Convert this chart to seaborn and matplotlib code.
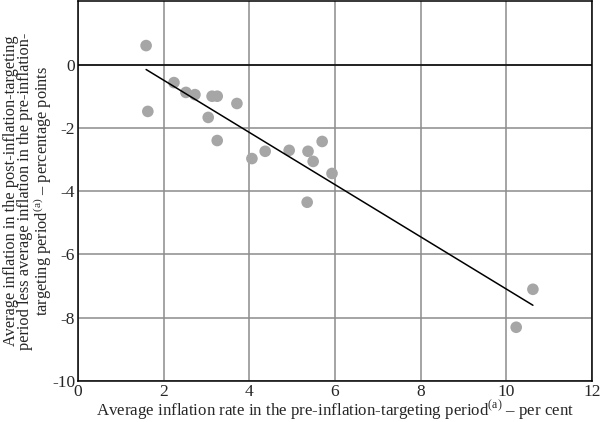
import numpy as np
import pandas as pd
import matplotlib
matplotlib.use("Agg")
import matplotlib.pyplot as plt
import seaborn as sns

# pre-IT average inflation (x) and change in average inflation (y)
pre_inflation = [1.59, 1.63, 2.24, 2.52, 2.73, 3.04, 3.13, 3.25, 3.25, 3.71,
                 4.06, 4.37, 4.93, 5.37, 5.35, 5.49, 5.70, 5.93, 10.62, 10.23]
inflation_change = [0.60, -1.48, -0.57, -0.88, -0.95, -1.67, -1.00, -1.00, -2.40, -1.23,
                    -2.97, -2.74, -2.71, -2.74, -4.35, -3.06, -2.43, -3.44, -7.10, -8.30]

x_ticks = [0, 2, 4, 6, 8, 10, 12]
y_ticks = [-10, -8, -6, -4, -2, 0]

df = pd.DataFrame({'pre': pre_inflation, 'change': inflation_change})

sns.set_style('white')
plt.rcParams['font.family'] = ['Liberation Serif', 'DejaVu Serif']
plt.rcParams['mathtext.fontset'] = 'custom'
plt.rcParams['mathtext.rm'] = 'Liberation Serif'
plt.rcParams['axes.unicode_minus'] = False

fig = plt.figure(figsize=(6, 4.22), dpi=100)
ax = fig.add_axes([0.13, 0.097, 0.8567, 0.9])

ax.set_xlim(0, 12)
ax.set_ylim(-10, 2)
ax.set_xticks(x_ticks)
ax.set_yticks(y_ticks)
ax.grid(True, color='#8c8c8c', linewidth=1.1)
ax.set_axisbelow(True)
ax.axhline(0, color='black', linewidth=1.1, zorder=1)

sns.scatterplot(data=df, x='pre', y='change', ax=ax, color='#a6a6a6',
                s=70, edgecolor='none', zorder=3)
sns.regplot(data=df, x='pre', y='change', ax=ax, scatter=False, ci=None,
            truncate=True, line_kws={'color': 'black', 'linewidth': 1.1, 'zorder': 4})

for sp in ax.spines.values():
    sp.set_color('black')
    sp.set_linewidth(1.1)

ax.tick_params(length=0, labelsize=12.5, pad=2)
ax.set_xlabel('Average inflation rate in the pre-inflation-targeting period$^{\\rm (a)}$ \u2013 per cent',
              fontsize=12.2, va='top')
ax.xaxis.set_label_coords(0.5, -0.046)
ax.set_ylabel('Average inflation in the post-inflation-targeting\n'
              'period less average inflation in the pre-inflation-\n'
              'targeting period$^{\\rm (a)}$ \u2013 percentage points',
              fontsize=11.8, linespacing=0.88)
ax.yaxis.set_label_coords(-0.047, 0.5)

plt.savefig('out.png', dpi=100)
